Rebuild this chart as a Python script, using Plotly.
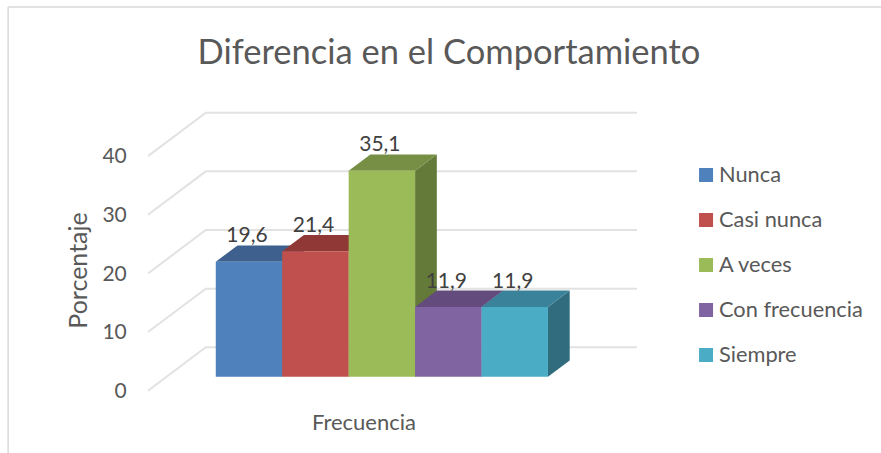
import plotly.graph_objects as go

# Data
categories = ["Nunca", "Casi nunca", "A veces", "Con frecuencia", "Siempre"]
values = [19.6, 21.4, 35.1, 11.9, 11.9]
value_labels = ["19,6", "21,4", "35,1", "11,9", "11,9"]
axis_ticks = [0, 10, 20, 30, 40]

front_colors = ["#4f81bd", "#c0504d", "#9bbb59", "#8064a2", "#4bacc6"]
top_colors = ["#3d608e", "#8f3836", "#768f44", "#644b7d", "#39829a"]
side_colors = ["#36557c", "#7d312f", "#647a38", "#57416d", "#306c7e"]

# Fake 3D geometry, in axis units (one bar is 1 wide on x)
DEPTH_X = 0.327
DEPTH_Y = 2.78
FLOOR_FRONT = -2.39
FLOOR_BACK = 5.01
WALL_X0 = -0.65
WALL_X1 = 5.84
FRONT_X0 = -1.52

# Plot area in page pixels
W, H = 881, 453
LEFT, RIGHT, TOP, BOTTOM = 148.3, 637, 100, 398
Y_RANGE = [(376.7 - BOTTOM) / 5.865, (376.7 - TOP) / 5.865]
X_RANGE = [FRONT_X0, WALL_X1]


def px_x(x):
    return (x - LEFT) / (RIGHT - LEFT)


def px_y(y):
    return (BOTTOM - y) / (BOTTOM - TOP)


fig = go.Figure()

# Gridlines run along the side wall, then along the back wall
for tick in axis_ticks:
    fig.add_trace(go.Scatter(
        x=[FRONT_X0, WALL_X0, WALL_X1],
        y=[tick + FLOOR_FRONT, tick + FLOOR_BACK, tick + FLOOR_BACK],
        mode="lines",
        line=dict(color="#e2e2e2", width=2),
        showlegend=False,
        hoverinfo="skip",
    ))

# Side and top faces, left to right so later bars cover earlier ones
for i, v in enumerate(values):
    fig.add_trace(go.Scatter(
        x=[i + 0.5, i + 0.5 + DEPTH_X, i + 0.5 + DEPTH_X, i + 0.5, i + 0.5],
        y=[0, DEPTH_Y, v + DEPTH_Y, v, 0],
        mode="lines",
        fill="toself",
        fillcolor=side_colors[i],
        line=dict(width=0),
        showlegend=False,
        hoverinfo="skip",
    ))
    fig.add_trace(go.Scatter(
        x=[i - 0.5, i + 0.5, i + 0.5 + DEPTH_X, i - 0.5 + DEPTH_X, i - 0.5],
        y=[v, v, v + DEPTH_Y, v + DEPTH_Y, v],
        mode="lines",
        fill="toself",
        fillcolor=top_colors[i],
        line=dict(width=0),
        showlegend=False,
        hoverinfo="skip",
    ))

# Front faces sit on an overlaying pair of axes so they cover the side faces
for i, v in enumerate(values):
    fig.add_trace(go.Bar(
        x=[i],
        y=[v],
        width=1,
        name=categories[i],
        marker=dict(color=front_colors[i], line=dict(width=0)),
        showlegend=False,
        xaxis="x2",
        yaxis="y2",
    ))

fig.add_trace(go.Scatter(
    x=[i - 0.03 for i in range(len(values))],
    y=[v + 4.2 for v in values],
    text=value_labels,
    mode="text",
    textposition="middle center",
    textfont=dict(size=21, color="#404040"),
    showlegend=False,
    hoverinfo="skip",
    xaxis="x2",
    yaxis="y2",
    cliponaxis=False,
))

# Plotly's own legend can't do the 14px keys or the tight gap, and it pushes the margin
shapes = [
    dict(type="line", xref="paper", yref="paper",
         x0=px_x(8.5), x1=px_x(8.5), y0=px_y(7), y1=px_y(H),
         line=dict(color="#d9d9d9", width=1.5)),
    dict(type="line", xref="paper", yref="paper",
         x0=px_x(8.5), x1=px_x(W), y0=px_y(7), y1=px_y(7),
         line=dict(color="#d9d9d9", width=1.5)),
]
annotations = [
    dict(text="Porcentaje", xref="paper", yref="paper", x=px_x(77), y=px_y(271),
         textangle=-90, showarrow=False, xanchor="center", yanchor="middle",
         font=dict(size=25, color="#595959")),
]
for i, name in enumerate(categories):
    mid = 175 + i * 45
    shapes.append(dict(type="rect", xref="paper", yref="paper",
                       x0=px_x(699), x1=px_x(713), y0=px_y(mid + 7), y1=px_y(mid - 7),
                       fillcolor=front_colors[i], line=dict(width=0)))
    annotations.append(dict(text=name, xref="paper", yref="paper", x=px_x(717), y=px_y(mid - 2),
                            showarrow=False, xanchor="left", yanchor="middle",
                            font=dict(size=21.8, color="#595959")))

fig.update_layout(
    width=W,
    height=H,
    autosize=False,
    margin=dict(l=LEFT, r=W - RIGHT, t=TOP, b=H - BOTTOM, pad=0),
    paper_bgcolor="white",
    plot_bgcolor="rgba(0,0,0,0)",
    font=dict(family="Lato", color="#595959"),
    barmode="overlay",
    showlegend=False,
    title=dict(
        text="Diferencia en el Comportamiento",
        x=449 / W,
        xanchor="center",
        y=1 - 52 / H,
        yanchor="middle",
        font=dict(size=34.5, color="#595959"),
    ),
    xaxis=dict(
        range=X_RANGE,
        tickvals=[1.73],
        ticktext=["Frecuencia"],
        tickfont=dict(size=22, color="#595959"),
        ticks="outside",
        ticklen=5,
        tickcolor="rgba(0,0,0,0)",
        showgrid=False,
        zeroline=False,
        showline=False,
    ),
    yaxis=dict(
        range=Y_RANGE,
        tickvals=[t + FLOOR_FRONT for t in axis_ticks],
        ticktext=[str(t) for t in axis_ticks],
        tickfont=dict(size=21, color="#595959"),
        ticks="outside",
        ticklen=16,
        tickcolor="rgba(0,0,0,0)",
        showgrid=False,
        zeroline=False,
        showline=False,
    ),
    xaxis2=dict(range=X_RANGE, overlaying="x", visible=False),
    yaxis2=dict(range=Y_RANGE, overlaying="y", visible=False),
    shapes=shapes,
    annotations=annotations,
)

fig.write_html("out.html", config=dict(displayModeBar=False),
               post_script="document.body.style.margin='0';")
